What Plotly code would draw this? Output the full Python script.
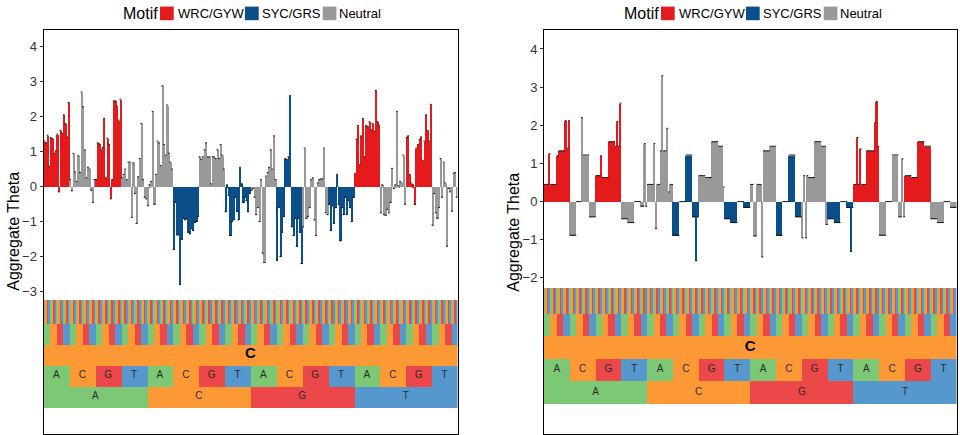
import itertools
import plotly.graph_objects as go

# ---------------- data ----------------
NUCS = ["A", "C", "G", "T"]
KMERS = ["".join(p[:2]) + "C" + "".join(p[2:]) for p in itertools.product(NUCS, repeat=4)]

# motif class of each block of 16 5-mers (positions -2,-1 fixed within a block)
BLOCK_MOTIF = ["WRC/GYW", "Neutral", "WRC/GYW", "Neutral",
               "Neutral", "SYC/GRS", "Neutral", "SYC/GRS",
               "Neutral", "SYC/GRS", "Neutral", "SYC/GRS",
               "WRC/GYW", "Neutral", "WRC/GYW", "Neutral"]
MOTIF = [BLOCK_MOTIF[i // 16] for i in range(256)]

THETA_LEFT = [
    1.30, 1.25, 1.47, 0.57, 1.40, 1.37, 0.95, 1.02, 1.50, -0.15, 1.60, 1.52, 2.05, 1.80, 1.42, 2.40,
    0.20, -0.12, 0.95, 0.42, 0.15, 0.88, 0.40, 2.70, 2.28, 1.05, 0.25, 0.55, 0.50, -0.10, -0.45, 0.20,
    0.20, 1.25, 1.22, 1.05, 1.12, 1.95, 0.25, 1.38, 1.20, -0.35, 0.20, 2.45, 2.45, 2.30, 1.90, 2.50,
    0.25, 0.35, 0.50, 0.20, 0.70, 0.70, -0.88, 0.68, -0.20, -1.05, 0.28, 0.80, 1.80, 0.20, -0.30, -0.35,
    -0.55, 0.05, 0.15, 2.15, -0.50, 0.35, 1.30, 1.25, 0.60, 2.88, 1.20, 0.90, 2.33, 0.95, 0.70, 0.50,
    -1.80, -0.45, -1.38, -1.38, -2.80, -1.50, -0.90, -0.95, -0.92, -1.30, -1.35, -1.20, -1.25, -1.02, -1.00, -0.85,
    0.85, 0.78, 0.85, 1.05, 1.25, 0.85, 0.85, 0.08, 0.85, 0.85, 0.80, 1.05, 0.80, 1.20, 0.90, 0.50,
    -0.72, 0.05, -0.25, -1.40, -1.00, -0.95, -0.30, -0.70, -0.95, 0.55, 0.08, -0.45, -0.30, -0.40, -0.72, -0.20,
    -0.10, -0.05, -0.30, -0.80, -0.60, -1.00, 0.20, -1.90, -2.17, 0.30, 0.40, 0.55, 1.05, 0.50, 1.45, 0.20,
    -2.10, -0.60, -2.00, -1.30, -0.85, 0.80, 0.78, 0.85, 2.60, -1.15, -1.40, -0.90, -1.70, -0.90, -1.30, -2.20,
    -1.15, 1.10, -0.90, -0.85, -0.60, 0.20, 0.25, -0.95, -1.40, 0.10, 0.20, 0.22, 0.22, 1.10, -0.75, -0.80,
    -0.50, -1.25, -0.55, -1.05, -0.60, 0.35, -0.50, -1.55, -0.60, -0.80, -0.30, -0.80, -0.40, -0.60, -1.00, -0.30,
    0.38, 1.35, 1.75, 0.62, 1.45, 1.95, 0.85, 1.75, 1.72, 1.85, 1.62, 1.80, 1.58, 2.75, 1.85, 1.75,
    -0.75, 0.05, -0.80, -0.82, -0.65, -0.75, -0.45, 0.52, -0.05, 0.05, 2.15, 0.02, 0.15, 0.10, 0.90, -0.50,
    1.40, 1.45, 0.35, 0.10, 0.05, -0.50, 1.10, 1.20, 1.35, 1.42, 0.75, 1.30, 2.05, 1.60, 1.30, 2.35,
    -1.10, -0.20, -0.75, -0.90, -0.60, 0.80, -0.30, 0.70, 0.10, -1.70, -0.05, -0.15, -0.70, 0.38, 0.40, -0.30,
]

THETA_RIGHT = [
    0.45, 0.45, 0.45, 1.25, 0.45, 0.45, 0.45, 0.45, 1.20, 1.33, 1.33, 1.33, 1.33, 2.12, 1.40, 2.12,
    -0.88, -0.88, -0.88, -0.88, 0.00, 0.00, 0.00, 2.20, 1.22, 1.22, 1.22, 1.22, -0.40, -0.40, -0.40, -0.40,
    0.68, 0.68, 0.68, 1.20, 0.63, 0.63, 0.63, 0.63, 1.57, 1.57, 1.57, 1.57, 1.45, 2.10, 1.45, 2.58,
    -0.45, -0.45, -0.45, -0.45, -0.55, -0.55, -0.55, -0.55, 0.00, 0.00, 0.00, 0.00, -0.12, -0.12, 1.52, -0.12,
    0.45, 0.45, 0.45, 0.45, 1.52, -0.70, 0.45, 0.45, 1.33, 3.30, 1.33, 1.33, 1.92, 0.25, 0.45, 0.45,
    -0.88, -0.88, -0.88, -0.88, 0.00, 0.00, 0.00, 0.00, 1.22, 1.22, 1.22, 1.22, -0.40, -0.40, -1.55, -0.40,
    0.68, 0.68, 0.68, 0.68, 0.63, 0.63, 0.63, 0.63, 1.57, 1.57, 1.57, 1.57, 1.45, 1.45, 1.45, 0.38,
    -0.45, -0.45, -0.45, -0.45, -0.55, -0.55, -0.55, -0.55, 0.00, 0.00, 0.00, 0.00, -0.15, -0.15, -0.15, -0.15,
    0.45, 0.45, -0.90, -0.90, 0.45, 0.45, 0.45, -1.45, 1.33, 1.33, 1.33, 1.33, 1.45, 1.45, 1.45, 1.45,
    -0.88, -0.88, -0.88, -0.88, 0.00, 0.00, 0.00, 0.00, 1.22, 1.22, 1.22, 1.22, -0.40, -0.40, -0.40, -0.40,
    -0.95, 0.68, -0.95, 0.68, 0.63, 0.63, 0.63, 0.63, 1.57, 1.57, 1.57, 1.57, 1.45, 1.45, 1.45, -0.60,
    -0.45, -0.45, -0.45, -0.45, -0.55, -0.55, -0.55, -0.55, 0.00, 0.00, 0.00, 0.00, -0.15, -0.15, -1.30, -0.15,
    0.45, 0.45, 1.68, 0.45, 1.38, 0.45, 0.45, 0.45, 1.33, 1.33, 1.33, 1.33, 1.33, 2.06, 2.62, 1.45,
    -0.88, -0.88, -0.88, -0.88, 0.00, 0.00, 0.00, 0.00, 1.22, 1.22, 1.22, 1.22, -0.40, -0.40, 1.12, -0.40,
    0.68, 0.68, 0.68, 0.68, 0.63, 0.63, 0.63, 0.63, 1.57, 1.57, 1.57, 1.57, 1.45, 1.45, 1.45, 1.45,
    -0.45, -0.45, -0.45, -0.45, -0.55, -0.55, -0.55, -0.55, 0.00, 0.00, 0.00, 0.00, -0.15, -0.15, -0.15, -0.15,
]

MOTIF_ORDER = ["WRC/GYW", "SYC/GRS", "Neutral"]
YTICKS_LEFT = [-3, -2, -1, 0, 1, 2, 3, 4]
YTICKS_RIGHT = [-2, -1, 0, 1, 2, 3, 4]

# ---------------- styling ----------------
MOTIF_COLORS = {"WRC/GYW": "#E41A1C", "SYC/GRS": "#0B4F8A", "Neutral": "#999999"}
NUC_COLORS = {"A": "#7DC874", "C": "#FD9935", "G": "#EC484A", "T": "#5697CE"}
FONT = "Liberation Sans, Arial, sans-serif"
W, H = 960, 435

# tile row edges (top of 256-row ... bottom of 4-row), in data units
EDGES_LEFT = [-3.24, -3.91, -4.50, -5.10, -5.70, -6.30]
EDGES_RIGHT = [-2.24, -2.92, -3.51, -4.10, -4.70, -5.30]
ROW_COUNTS = [256, 64, 1, 16, 4]

fig = go.Figure()

panels = [
    dict(vals=THETA_LEFT, xa="x", ya="y", edges=EDGES_LEFT),
    dict(vals=THETA_RIGHT, xa="x2", ya="y2", edges=EDGES_RIGHT),
]

positions = list(range(1, 257))
for p in panels:
    vals = p["vals"]
    # theta bars
    fig.add_trace(go.Bar(
        x=positions, y=vals, width=1, base=0,
        marker=dict(color=[MOTIF_COLORS[m] for m in MOTIF], line=dict(width=0)),
        xaxis=p["xa"], yaxis=p["ya"], showlegend=False,
        customdata=KMERS, hovertemplate="%{customdata}: %{y}<extra></extra>",
    ))
    # small black caps on the bar ends
    fig.add_trace(go.Scatter(
        x=positions, y=vals, mode="markers",
        marker=dict(symbol="line-ew", size=1.3, line=dict(width=1.0, color="#111111")),
        xaxis=p["xa"], yaxis=p["ya"], showlegend=False, hoverinfo="skip",
    ))
    # nucleotide tiles
    e = p["edges"]
    for r, n in enumerate(ROW_COUNTS):
        wdt = 256 / n
        centers = [0.5 + wdt * (k + 0.5) for k in range(n)]
        nucs = ["C"] if n == 1 else [NUCS[k % 4] for k in range(n)]
        top, bot = e[r], e[r + 1]
        fig.add_trace(go.Bar(
            x=centers, y=[top - bot] * n, base=[bot] * n, width=[wdt] * n,
            marker=dict(color=[NUC_COLORS[c] for c in nucs], line=dict(width=0)),
            xaxis=p["xa"], yaxis=p["ya"], showlegend=False, hoverinfo="skip",
        ))
        if n in (16, 4):
            fig.add_trace(go.Scatter(
                x=centers, y=[(top + bot) / 2] * n, mode="text", text=nucs,
                textfont=dict(size=10, color="#2b2b2b", family=FONT),
                xaxis=p["xa"], yaxis=p["ya"], showlegend=False, hoverinfo="skip",
            ))
        elif n == 1:
            fig.add_trace(go.Scatter(
                x=centers, y=[(top + bot) / 2], mode="text", text=["<b>C</b>"],
                textfont=dict(size=15, color="#000000", family=FONT),
                xaxis=p["xa"], yaxis=p["ya"], showlegend=False, hoverinfo="skip",
            ))

def px(xp):
    return xp / W

def py(yp):
    return (H - yp) / H

axis_common = dict(showline=True, mirror=True, linecolor="#000000", linewidth=1,
                   showgrid=False, zeroline=False)
ydom = [py(434), py(29.5)]
fig.update_layout(
    width=W, height=H, autosize=False,
    margin=dict(l=0, r=0, t=0, b=0),
    paper_bgcolor="white", plot_bgcolor="white",
    barmode="overlay", bargap=0,
    font=dict(family=FONT, color="#000000"),
    xaxis=dict(domain=[px(43.5), px(457.5)], range=[0.5, 256.5], anchor="y",
               showticklabels=False, ticks="", **axis_common),
    yaxis=dict(domain=ydom, range=[-7.07, 4.49], anchor="x",
               tickvals=YTICKS_LEFT, ticks="outside", ticklen=3, tickcolor="#333333",
               tickfont=dict(size=13, color="#333333"), **axis_common),
    xaxis2=dict(domain=[px(544), px(956.5)], range=[0.5, 256.5], anchor="y2",
                showticklabels=False, ticks="", **axis_common),
    yaxis2=dict(domain=ydom, range=[-6.09, 4.51], anchor="x2",
                tickvals=YTICKS_RIGHT, ticks="outside", ticklen=3, tickcolor="#333333",
                tickfont=dict(size=13, color="#333333"), **axis_common),
)

annotations = []
shapes = []
for off in (0, 501):
    # y-axis title
    annotations.append(dict(text="Aggregate Theta", x=px(14 + off * 0.998), y=py(231.7),
                            xref="paper", yref="paper", showarrow=False, textangle=-90,
                            font=dict(size=16, color="#000000"), xanchor="center", yanchor="middle"))
    # legend
    annotations.append(dict(text="Motif", x=px(120.7 + off), y=py(13.4), xref="paper", yref="paper",
                            showarrow=False, xanchor="left", yanchor="middle",
                            font=dict(size=16, color="#000000")))
    items = [("WRC/GYW", 160.0, 175.7), ("SYC/GRS", 245.0, 260.0), ("Neutral", 322.7, 337.0)]
    for name, sx, tx in items:
        shapes.append(dict(type="rect", xref="paper", yref="paper",
                           x0=px(sx + off), x1=px(sx + 13.7 + off), y0=py(20.2), y1=py(6.6),
                           fillcolor=MOTIF_COLORS[name], line=dict(width=0)))
        annotations.append(dict(text=name, x=px(tx + off), y=py(13.6), xref="paper", yref="paper",
                                showarrow=False, xanchor="left", yanchor="middle",
                                font=dict(size=13, color="#000000")))

fig.update_layout(annotations=annotations, shapes=shapes)
fig.write_html("out.html")
